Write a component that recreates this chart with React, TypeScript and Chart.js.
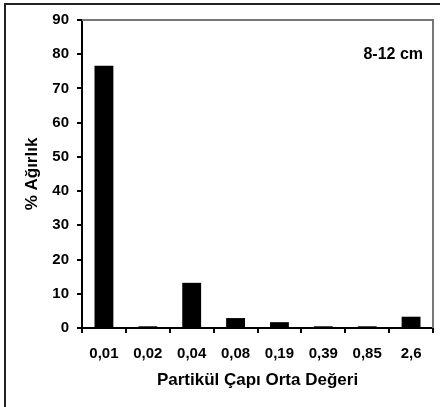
import React, { useEffect, useRef } from "react";
import { Chart, registerables } from "chart.js";

Chart.register(...registerables);

const categories = ["0,01", "0,02", "0,04", "0,08", "0,19", "0,39", "0,85", "2,6"];
const weights = [76.6, 0.5, 13.2, 2.9, 1.7, 0.5, 0.5, 3.3];
const yTitle = "% Ağırlık";
const xTitle = "Partikül Çapı Orta Değeri";
const note = "8-12 cm";

const FONT = "'Liberation Sans', Arial, Helvetica, sans-serif";

const framePlugin = {
  id: "frame",
  afterDraw(chart: any) {
    const { ctx, chartArea } = chart;
    ctx.save();
    // outer frame (left + top)
    ctx.strokeStyle = "#222";
    ctx.lineWidth = 2;
    ctx.beginPath();
    ctx.moveTo(5, 407);
    ctx.lineTo(5, 4);
    ctx.lineTo(440, 4);
    ctx.stroke();
    // plot top & right border
    ctx.strokeStyle = "#777";
    ctx.beginPath();
    ctx.moveTo(chartArea.left, chartArea.top);
    ctx.lineTo(chartArea.right, chartArea.top);
    ctx.lineTo(chartArea.right, chartArea.bottom);
    ctx.stroke();
    // annotation
    ctx.fillStyle = "#000";
    ctx.font = `bold 16px ${FONT}`;
    ctx.textAlign = "right";
    ctx.textBaseline = "middle";
    ctx.fillText(note, chartArea.right - 10, 55);
    ctx.restore();
  },
};

export default function App() {
  const ref = useRef<HTMLCanvasElement>(null);
  useEffect(() => {
    if (!ref.current) return;
    const chart = new Chart(ref.current, {
      type: "bar",
      data: {
        labels: categories,
        datasets: [
          {
            data: weights,
            backgroundColor: "#000",
            borderWidth: 0,
            barPercentage: 0.43,
            categoryPercentage: 1,
          },
        ],
      },
      options: {
        animation: false,
        responsive: false,
        devicePixelRatio: 1,
        layout: { padding: { left: 0, top: 20, right: 7, bottom: 7 } },
        plugins: { legend: { display: false }, tooltip: { enabled: false } },
        scales: {
          x: {
            grid: {
              offset: true,
              drawOnChartArea: false,
              drawTicks: true,
              tickLength: 5,
              color: "#000",
              lineWidth: 2,
            },
            border: { color: "#000", width: 2 },
            ticks: {
              color: "#000",
              padding: 12,
              maxRotation: 0,
              autoSkip: false,
              font: { family: FONT, size: 15, weight: "bold" },
            },
            title: {
              display: true,
              text: xTitle,
              color: "#000",
              padding: { top: 0, bottom: 9 },
              font: { family: FONT, size: 17, weight: "bold" },
            },
            afterFit: (s: any) => {
              s.height = 72;
            },
          },
          y: {
            min: 0,
            max: 90,
            ticks: {
              stepSize: 10,
              color: "#000",
              padding: 8,
              font: { family: FONT, size: 15, weight: "bold" },
            },
            grid: {
              drawOnChartArea: false,
              drawTicks: true,
              tickLength: 5,
              color: "#000",
              lineWidth: 2,
            },
            border: { color: "#000", width: 2 },
            title: {
              display: true,
              text: yTitle,
              color: "#000",
              padding: { top: 22, bottom: 0 },
              font: { family: FONT, size: 17, weight: "bold" },
            },
            afterFit: (s: any) => {
              s.width = 82;
            },
          },
        },
      },
      plugins: [framePlugin],
    });
    return () => chart.destroy();
  }, []);
  return (
    <div style={{ position: "absolute", left: 0, top: 0, width: 440, height: 407 }}>
      <canvas ref={ref} width={440} height={407} />
    </div>
  );
}
